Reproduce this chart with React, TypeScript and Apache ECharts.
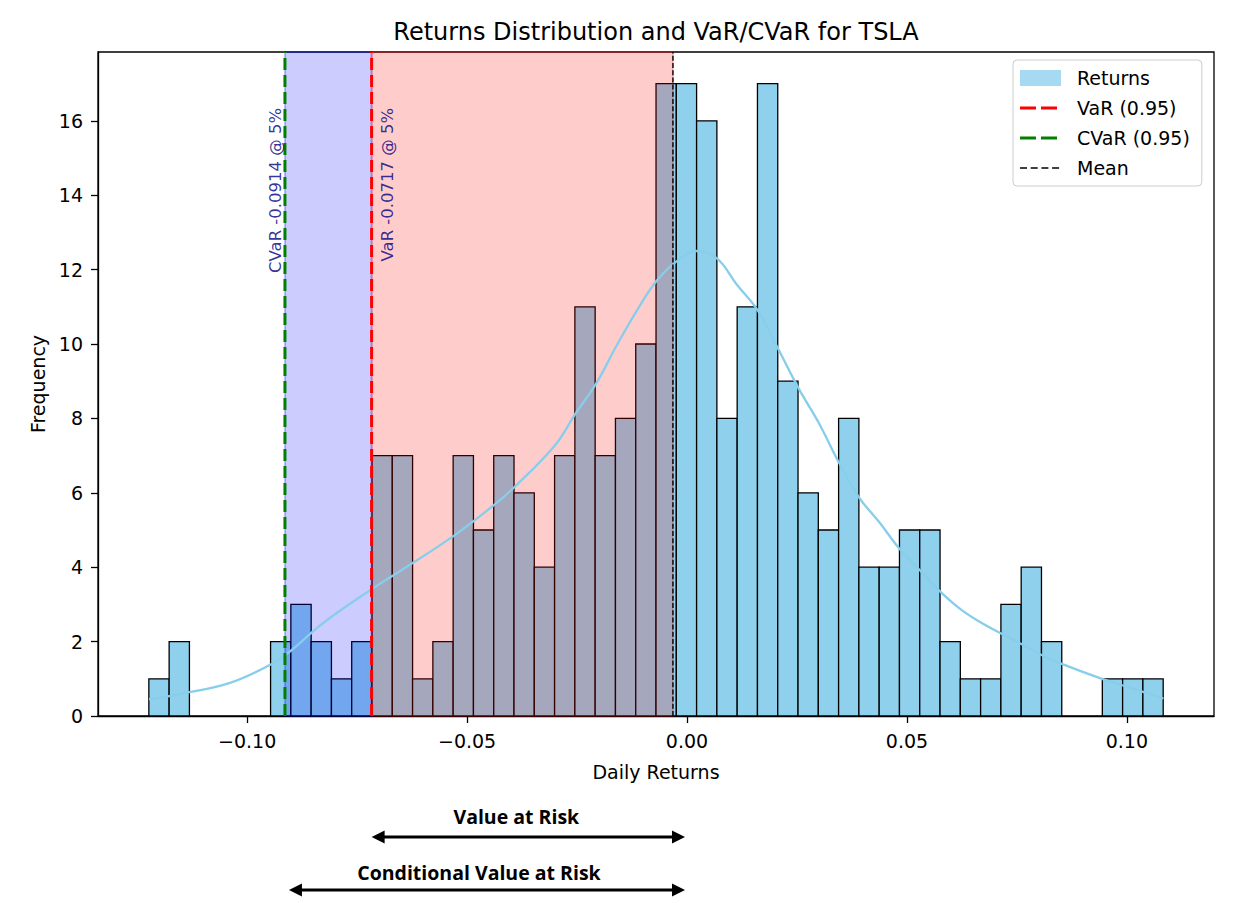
import React, { useEffect, useRef } from 'react';
import * as echarts from 'echarts';

// ---------- data ----------
const TITLE = 'Returns Distribution and VaR/CVaR for TSLA';
const BIN_MIN = -0.12234;
const BIN_MAX = 0.10825;
const COUNTS = [
  1, 2, 0, 0, 0, 0, 2, 3, 2, 1,
  2, 7, 7, 1, 2, 7, 5, 7, 6, 4,
  7, 11, 7, 8, 10, 17, 17, 16, 8, 11,
  17, 9, 6, 5, 8, 4, 4, 5, 5, 2,
  1, 1, 3, 4, 2, 0, 0, 1, 1, 1,
];
const KDE_X = [
  -0.1223, -0.1152, -0.1039, -0.0944, -0.0902, -0.0827, -0.0714, -0.0652, -0.0532, -0.0441,
  -0.0391, -0.03, -0.0255, -0.0205, -0.016, -0.0114, -0.0069, -0.0023, 0.0022, 0.0068,
  0.0113, 0.0161, 0.0208, 0.0254, 0.03, 0.0345, 0.0391, 0.0439, 0.0484, 0.0531,
  0.0577, 0.0623, 0.067, 0.0715, 0.0761, 0.0806, 0.0852, 0.0945, 0.0991, 0.1083,
];
const KDE_Y = [
  0.45, 0.59, 0.89, 1.4, 1.74, 2.5, 3.43, 3.9, 4.83, 5.65,
  6.17, 7.28, 8.1, 8.97, 9.96, 10.9, 11.7, 12.23, 12.5, 12.3,
  11.6, 10.9, 9.85, 8.8, 7.87, 6.82, 5.88, 5.18, 4.48, 3.9,
  3.33, 2.86, 2.5, 2.21, 1.93, 1.64, 1.4, 0.99, 0.82, 0.47,
];
const VAR_95 = -0.0717;
const CVAR_95 = -0.0914;
const MEAN_RET = -0.0032;
const ARROW_END = 0.0;
const LABEL_Y = 16.35;
const X_TICKS = [-0.1, -0.05, 0, 0.05, 0.1];
const Y_TICKS = [0, 2, 4, 6, 8, 10, 12, 14, 16];
const X_MIN = -0.1339;
const X_MAX = 0.1198;
const Y_MAX = 17.85;

const FONT = 'DejaVu Sans';

// legend icons (two long dashes / four short dashes), bounding box 41x16
const ICON_DASH = 'path://M0,0M41,16M0,6.5h16v3h-16zM21,6.5h16v3h-16z';
const ICON_SHORT_DASH = 'path://M0,0M41,16M0,7.3h7v1.4h-7zM10.7,7.3h7v1.4h-7zM21.4,7.3h7v1.4h-7zM32.1,7.3h7v1.4h-7z';

export default function App() {
  const ref = useRef<HTMLDivElement>(null);

  useEffect(() => {
    document.body.style.margin = '0';
    const chart = echarts.init(ref.current!, null, { renderer: 'svg' });
    const n = COUNTS.length;
    const w = (BIN_MAX - BIN_MIN) / n;
    const bins = COUNTS.map((c, i) => [BIN_MIN + i * w, BIN_MIN + (i + 1) * w, c]).filter((b) => b[2] > 0);
    const kde = KDE_X.map((x, i) => [x, KDE_Y[i]]);

    const vline = (name: string, x: number, color: string, width: number, dash: number[], z: number) => ({
      name,
      type: 'line',
      data: [[x, 0], [x, Y_MAX]],
      symbol: 'none',
      silent: true,
      z,
      itemStyle: { color },
      lineStyle: { color, width, type: dash },
    });

    const option: any = {
      animation: false,
      backgroundColor: '#fff',
      title: {
        text: TITLE,
        left: 651,
        top: 15,
        textAlign: 'center',
        textStyle: { fontFamily: FONT, fontSize: 24, fontWeight: 'normal', color: '#000' },
      },
      grid: {
        left: 98,
        top: 52,
        right: 26,
        bottom: 187,
        show: true,
        borderColor: '#000',
        borderWidth: 1.3,
        backgroundColor: 'transparent',
        outerBoundsMode: 'none',
      },
      legend: {
        data: [
          { name: 'Returns', icon: 'rect', itemStyle: { color: 'rgba(135,206,235,0.75)', borderWidth: 0 } },
          { name: 'VaR (0.95)', icon: ICON_DASH, itemStyle: { color: '#ff0000', borderWidth: 0 } },
          { name: 'CVaR (0.95)', icon: ICON_DASH, itemStyle: { color: '#008000', borderWidth: 0 } },
          { name: 'Mean', icon: ICON_SHORT_DASH, itemStyle: { color: '#000000', borderWidth: 0 } },
        ],
        orient: 'vertical',
        left: 1013,
        top: 60,
        itemWidth: 41,
        itemHeight: 16,
        itemGap: 10,
        padding: [8, 12, 8, 7],
        borderColor: '#cccccc',
        borderWidth: 1,
        borderRadius: 4,
        backgroundColor: 'rgba(255,255,255,0.8)',
        selectedMode: false,
        textStyle: { fontFamily: FONT, fontSize: 19, color: '#000', lineHeight: 20, padding: [0, 0, 0, 11] },
      },
      xAxis: {
        type: 'value',
        min: X_MIN,
        max: X_MAX,
        name: 'Daily Returns',
        nameLocation: 'middle',
        nameGap: 46,
        nameTextStyle: { fontFamily: FONT, fontSize: 19, color: '#000' },
        axisLine: { show: true, onZero: false, lineStyle: { color: '#000', width: 1.3 } },
        axisTick: { show: true, length: 7, customValues: X_TICKS, lineStyle: { color: '#000', width: 1.3 } },
        axisLabel: {
          customValues: X_TICKS,
          margin: 15,
          fontFamily: FONT,
          fontSize: 19,
          color: '#000',
          formatter: (v: number) => (v < -1e-9 ? '\u2212' : '') + Math.abs(v).toFixed(2),
        },
        splitLine: { show: false },
      },
      yAxis: {
        type: 'value',
        min: 0,
        max: Y_MAX,
        name: 'Frequency',
        nameLocation: 'middle',
        nameGap: 50,
        nameTextStyle: { fontFamily: FONT, fontSize: 19, color: '#000' },
        axisLine: { show: true, onZero: false, lineStyle: { color: '#000', width: 1.3 } },
        axisTick: { show: true, length: 7, customValues: Y_TICKS, lineStyle: { color: '#000', width: 1.3 } },
        axisLabel: {
          customValues: Y_TICKS,
          margin: 15,
          fontFamily: FONT,
          fontSize: 19,
          color: '#000',
          formatter: (v: number) => String(Math.round(v)),
        },
        splitLine: { show: false },
      },
      series: [
        {
          name: 'Returns',
          type: 'custom',
          z: 2,
          silent: true,
          itemStyle: { color: 'rgb(143,209,236)' },
          encode: { x: [0, 1], y: 2 },
          data: bins,
          renderItem: (params: any, api: any) => {
            const p0 = api.coord([api.value(0), api.value(2)]);
            const p1 = api.coord([api.value(1), 0]);
            return {
              type: 'rect',
              shape: { x: p0[0], y: p0[1], width: p1[0] - p0[0], height: p1[1] - p0[1] },
              style: { fill: 'rgb(143,209,236)', stroke: '#000', lineWidth: 1.3 },
            };
          },
        },
        {
          name: 'spans',
          type: 'line',
          data: [],
          z: 3,
          silent: true,
          markArea: {
            silent: true,
            z: 5,
            data: [
              [
                { xAxis: CVAR_95, itemStyle: { color: 'rgba(0,0,255,0.2)', borderColor: 'rgba(0,0,255,0.25)', borderWidth: 2 } },
                { xAxis: VAR_95 },
              ],
              [
                { xAxis: VAR_95, itemStyle: { color: 'rgba(255,0,0,0.2)', borderColor: 'rgba(255,0,0,0.2)', borderWidth: 2 } },
                { xAxis: MEAN_RET },
              ],
            ],
          },
        },
        {
          name: 'KDE',
          type: 'line',
          data: kde,
          smooth: 0.4,
          symbol: 'none',
          silent: true,
          z: 6,
          lineStyle: { color: '#87ceeb', width: 2.3 },
        },
        vline('VaR (0.95)', VAR_95, '#ff0000', 3, [12, 5], 7),
        vline('CVaR (0.95)', CVAR_95, '#008000', 3, [12, 5], 7),
        vline('Mean', MEAN_RET, '#000000', 1.4, [5, 2.2], 7),
        {
          name: 'labels',
          type: 'scatter',
          symbolSize: 0,
          silent: true,
          z: 8,
          data: [
            {
              value: [CVAR_95, LABEL_Y],
              label: {
                show: true,
                position: [0, 0],
                rotate: 90,
                align: 'right',
                verticalAlign: 'bottom',
                padding: [0, 0, 1, 0],
                formatter: 'CVaR ' + CVAR_95.toFixed(4) + ' @ 5%',
              },
            },
            {
              value: [VAR_95, LABEL_Y],
              label: {
                show: true,
                position: [0, 0],
                rotate: 90,
                align: 'right',
                verticalAlign: 'top',
                padding: [7, 0, 0, 0],
                formatter: 'VaR ' + VAR_95.toFixed(4) + ' @ 5%',
              },
            },
          ],
          label: { fontFamily: FONT, fontSize: 16.5, color: '#000080' },
        },
      ],
    };
    chart.setOption(option);

    const px = (v: number) => chart.convertToPixel({ xAxisIndex: 0 }, v) as number;
    const varX = px(VAR_95);
    const cvarX = px(CVAR_95);
    const endX = px(ARROW_END) - 2;

    const arrow = (x0: number, x1: number, y: number) => ({
      type: 'group',
      children: [
        { type: 'line', shape: { x1: x0 + 8, y1: y, x2: x1 - 8, y2: y }, style: { stroke: '#000', lineWidth: 3 } },
        { type: 'polygon', shape: { points: [[x0, y], [x0 + 13, y - 6.5], [x0 + 13, y + 6.5]] }, style: { fill: '#000' } },
        { type: 'polygon', shape: { points: [[x1, y], [x1 - 13, y - 6.5], [x1 - 13, y + 6.5]] }, style: { fill: '#000' } },
      ],
    });
    const label = (text: string, x: number, y: number) => ({
      type: 'text',
      x,
      y,
      style: {
        text,
        fill: '#000',
        fontFamily: 'Open Sans',
        fontWeight: 'bold',
        fontSize: 19.5,
        align: 'center',
        verticalAlign: 'middle',
        textAlign: 'center',
        textVerticalAlign: 'middle',
      },
    });

    chart.setOption({
      graphic: [
        label('Value at Risk', (varX + endX) / 2 - 12, 816),
        arrow(varX, endX, 837),
        label('Conditional Value at Risk', (cvarX + 4 + endX) / 2 - 8, 872),
        arrow(cvarX + 4, endX, 890),
      ],
    });

    return () => chart.dispose();
  }, []);

  return (
    <div
      ref={ref}
      style={{ position: 'absolute', left: 0, top: 0, width: 1240, height: 903, background: '#fff' }}
    />
  );
}
